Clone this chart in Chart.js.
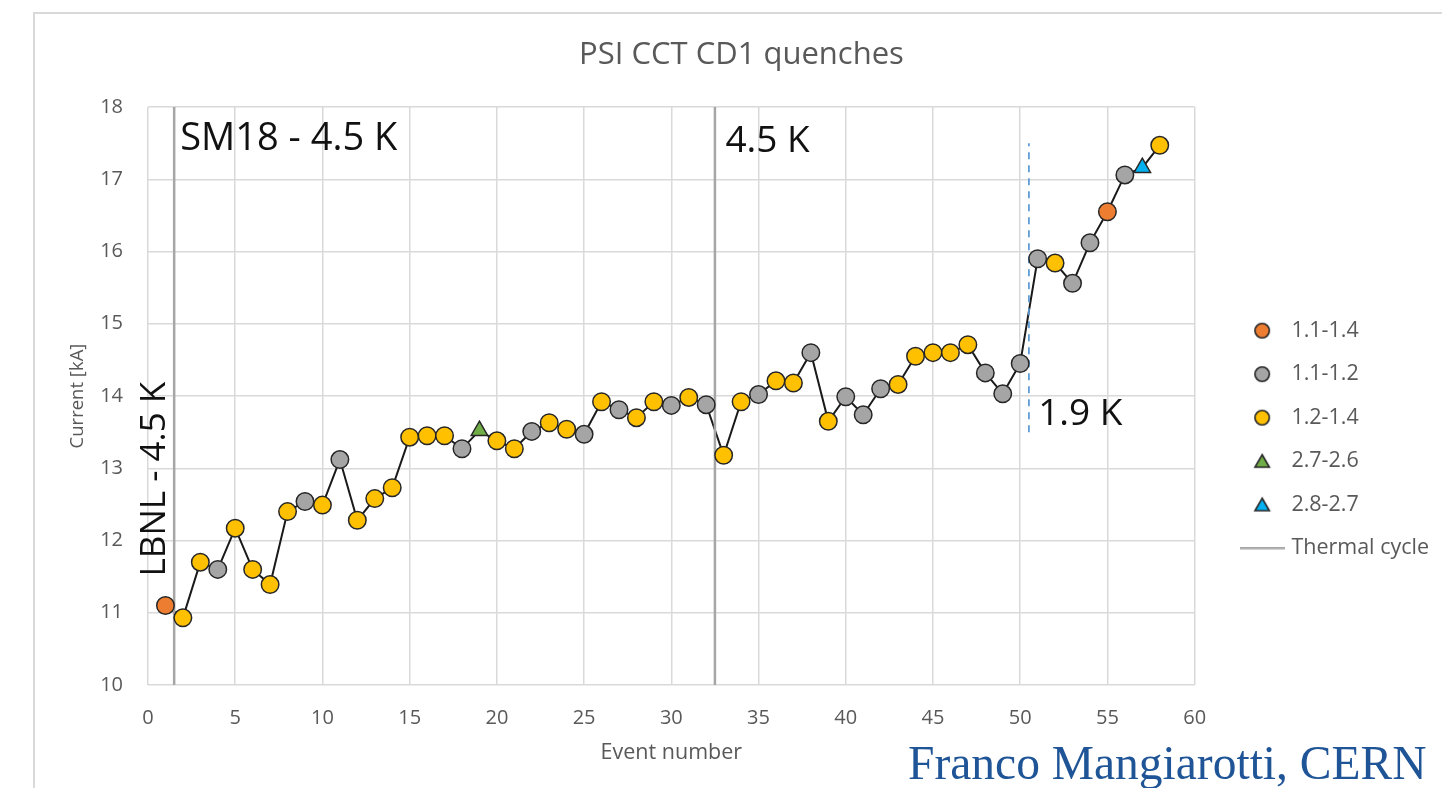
<!DOCTYPE html>
<html>
<head>
<meta charset="utf-8">
<script src="https://cdn.jsdelivr.net/npm/chart.js@4.4.0/dist/chart.umd.min.js"></script>
<style>
  html, body { margin: 0; padding: 0; background: #fff; }
  #wrap { position: relative; width: 1442px; height: 788px; overflow: hidden; }
  #frame { position: absolute; left: 33px; top: 12px; width: 1440px; height: 800px;
           border-left: 2px solid #d9d9d9; border-top: 2px solid #d9d9d9; }
  canvas { position: absolute; left: 0; top: 0; }
  #credit { position: absolute; left: 908px; top: 740px; font-family: "Liberation Serif", serif;
            font-size: 47.5px; color: #1f5597; white-space: nowrap; line-height: 1; }
</style>
</head>
<body>
<div id="wrap">
  <div id="frame"></div>
  <canvas id="quenchChart" width="1442" height="788"></canvas>
  <div id="credit">Franco Mangiarotti, CERN</div>
</div>
<script>
// legend groups (ramp-rate classes) and how they are drawn
const categories = ['1.1-1.4', '1.1-1.2', '1.2-1.4', '2.7-2.6', '2.8-2.7'];
const catFill = ['#ed7d31', '#a5a5a5', '#ffc000', '#70ad47', '#00b0f0'];
const catShape = ['circle', 'circle', 'circle', 'triangle', 'triangle'];

// quench history
const eventNum = [1, 2, 3, 4, 5, 6, 7, 8, 9, 10, 11, 12, 13, 14, 15, 16, 17, 18, 19, 20,
  21, 22, 23, 24, 25, 26, 27, 28, 29, 30, 31, 32, 33, 34, 35, 36, 37, 38, 39, 40,
  41, 42, 43, 44, 45, 46, 47, 48, 49, 50, 51, 52, 53, 54, 55, 56, 57, 58];
const current = [11.10, 10.93, 11.70, 11.60, 12.17, 11.60, 11.39, 12.40, 12.54, 12.49,
  13.12, 12.28, 12.58, 12.73, 13.43, 13.45, 13.45, 13.27, 13.52, 13.38,
  13.27, 13.51, 13.63, 13.54, 13.47, 13.92, 13.81, 13.70, 13.92, 13.87,
  13.98, 13.88, 13.18, 13.92, 14.02, 14.21, 14.18, 14.60, 13.65, 13.99,
  13.74, 14.10, 14.16, 14.55, 14.60, 14.60, 14.71, 14.32, 14.03, 14.45,
  15.90, 15.84, 15.56, 16.12, 16.55, 17.06, 17.16, 17.47];
const category = [0, 2, 2, 1, 2, 2, 2, 2, 1, 2,
  1, 2, 2, 2, 2, 2, 2, 1, 3, 2,
  2, 1, 2, 2, 1, 2, 1, 2, 2, 1,
  2, 1, 2, 2, 1, 2, 2, 1, 2, 1,
  1, 1, 2, 2, 2, 2, 2, 1, 1, 1,
  1, 2, 1, 1, 0, 1, 4, 2];

// vertical markers
const thermalCycles = [1.5, 32.5];
const coolDownAt = 50.5;
const coolDownRange = [13.5, 17.5];

const notes = [
  { text: 'SM18 - 4.5 K', x: 1.85, y: 17.55, size: 38, rot: 0 },
  { text: '4.5 K', x: 33.1, y: 17.52, size: 37, rot: 0 },
  { text: '1.9 K', x: 51.03, y: 13.75, size: 37, rot: 0 },
  { text: 'LBNL - 4.5 K', x: 0.4, y: 12.85, size: 35, rot: -Math.PI / 2 },
];

const textGrey = '#595959';
const FONT = '"Open Sans"';

const notePlugin = {
  id: 'notes',
  afterDatasetsDraw(chart) {
    const { ctx, scales: { x, y } } = chart;
    ctx.save();
    ctx.fillStyle = '#111';
    ctx.textBaseline = 'middle';
    notes.forEach(n => {
      const px = x.getPixelForValue(n.x);
      const py = y.getPixelForValue(n.y);
      ctx.save();
      ctx.font = n.size + 'px ' + FONT;
      ctx.translate(px, py);
      if (n.rot) {
        ctx.rotate(n.rot);
        ctx.textAlign = 'center';
      } else {
        ctx.textAlign = 'left';
      }
      ctx.fillText(n.text, 0, 0);
      ctx.restore();
    });
    ctx.restore();
  },
};

// small icons for the legend (the built-in ones get stretched by pointStyleWidth)
function legendIcon(shape, fill) {
  const c = document.createElement('canvas');
  if (shape === 'line') {
    c.width = 45; c.height = 3;
    const g = c.getContext('2d');
    g.fillStyle = fill;
    g.fillRect(0, 0, 45, 2.5);
    return c;
  }
  c.width = 20; c.height = 20;
  const g = c.getContext('2d');
  g.fillStyle = fill;
  g.strokeStyle = '#262626';
  g.lineWidth = 1.6;
  g.beginPath();
  if (shape === 'circle') {
    g.arc(10, 10, 7.2, 0, Math.PI * 2);
  } else {
    g.moveTo(10, 3.5);
    g.lineTo(17.2, 16);
    g.lineTo(2.8, 16);
    g.closePath();
  }
  g.fill();
  g.stroke();
  return c;
}

const points = eventNum.map((x, i) => ({ x, y: current[i] }));

const datasets = categories.map((name, c) => ({
  label: name,
  data: points.filter((_, i) => category[i] === c),
  pointStyle: catShape[c],
  backgroundColor: catFill[c],
  borderColor: '#262626',
  borderWidth: 1.5,
  pointRadius: c >= 3 ? 9.5 : 8.75,
  pointHoverRadius: c >= 3 ? 9.5 : 8.75,
  legendIcon: legendIcon(catShape[c], catFill[c]),
}));

thermalCycles.forEach((tc, k) => {
  datasets.push({
    label: 'Thermal cycle',
    inLegend: k === 0,
    data: [{ x: tc, y: 10 }, { x: tc, y: 18 }],
    showLine: true,
    borderColor: '#a6a6a6',
    borderWidth: 2.5,
    pointRadius: 0,
    pointHoverRadius: 0,
    legendIcon: legendIcon('line', '#a6a6a6'),
  });
});

datasets.push({
  label: '1.9 K',
  inLegend: false,
  data: coolDownRange.map(v => ({ x: coolDownAt, y: v })),
  showLine: true,
  borderColor: '#5b9bd5',
  borderWidth: 1.75,
  borderDash: [7, 6],
  pointRadius: 0,
  pointHoverRadius: 0,
});

datasets.push({
  label: 'quench sequence',
  inLegend: false,
  data: points,
  showLine: true,
  borderColor: '#1a1a1a',
  borderWidth: 2,
  pointRadius: 0,
  pointHoverRadius: 0,
});

new Chart(document.getElementById('quenchChart'), {
  type: 'scatter',
  data: { datasets },
  plugins: [notePlugin],
  options: {
    responsive: false,
    animation: false,
    layout: { padding: { left: 44, top: 13, right: 3, bottom: 0 } },
    plugins: {
      title: {
        display: true,
        text: 'PSI CCT CD1 quenches',
        color: textGrey,
        font: { family: FONT, size: 31, weight: 'normal' },
        padding: { top: 23.4, bottom: 33.4 },
      },
      legend: {
        position: 'right',
        align: 'center',
        title: { display: true, text: ' ', font: { size: 21.5 }, padding: { top: 52, bottom: 0 } },
        labels: {
          usePointStyle: true,
          pointStyleWidth: 37,
          boxHeight: 11,
          padding: 22,
          color: textGrey,
          font: { family: FONT, size: 21.5 },
          generateLabels: chart => Chart.defaults.plugins.legend.labels.generateLabels(chart)
            .map(item => ({ ...item, pointStyle: chart.data.datasets[item.datasetIndex].legendIcon })),
          filter: (item, data) => data.datasets[item.datasetIndex].inLegend !== false,
        },
      },
      tooltip: { enabled: false },
    },
    scales: {
      x: {
        type: 'linear',
        min: 0,
        max: 60,
        ticks: { stepSize: 5, color: textGrey, font: { family: FONT, size: 20 }, padding: 21 },
        grid: { color: '#d9d9d9', lineWidth: 1.5, drawTicks: false },
        border: { display: false },
        title: {
          display: true,
          text: 'Event number',
          color: textGrey,
          font: { family: FONT, size: 21.5 },
          padding: { top: 0, bottom: 22 },
        },
        afterFit: s => { s.height = 103; },
      },
      y: {
        min: 10,
        max: 18,
        ticks: { stepSize: 1, color: textGrey, font: { family: FONT, size: 20 }, padding: 25 },
        grid: { color: '#d9d9d9', lineWidth: 1.5, drawTicks: false },
        border: { display: false },
        title: {
          display: true,
          text: 'Current [kA]',
          color: textGrey,
          font: { family: FONT, size: 18.5 },
          padding: { top: 23, bottom: 0 },
        },
        afterFit: s => { s.width = 104; },
      },
      // empty spacer between the plot and the legend
      gap: {
        type: 'linear',
        position: 'right',
        ticks: { display: false },
        grid: { display: false },
        border: { display: false },
        afterFit: s => { s.width = 27; },
      },
    },
  },
});
</script>
</body>
</html>
